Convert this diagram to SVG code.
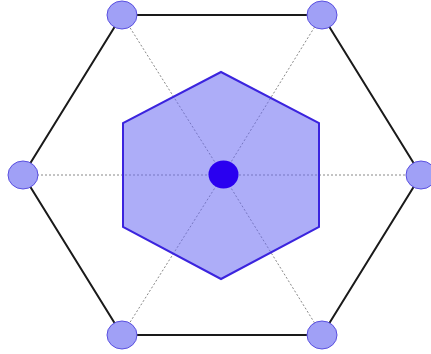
<svg xmlns="http://www.w3.org/2000/svg" width="431" height="354" viewBox="0 0 431 354">
<style>
.edge{stroke:#1a1a1a;stroke-width:2;fill:none}
.spoke{stroke:#888;stroke-width:1;stroke-dasharray:2,2;fill:none}
.vtx{fill:#a0a0f6;stroke:#5a50e0;stroke-width:1}
</style>
<rect width="431" height="354" fill="#ffffff"/>
<g id="connectors">
<polygon class="edge" points="122,15 322,15 421,175 322,335 122,335 23,175"/>
<line class="spoke" x1="223" y1="175" x2="122" y2="15"/>
<line class="spoke" x1="223" y1="175" x2="322" y2="15"/>
<line class="spoke" x1="223" y1="175" x2="421" y2="175"/>
<line class="spoke" x1="223" y1="175" x2="322" y2="335"/>
<line class="spoke" x1="223" y1="175" x2="122" y2="335"/>
<line class="spoke" x1="223" y1="175" x2="23" y2="175"/>
</g>
<g id="inner">
<polygon points="221,72 319,123 319,227 221,279 123,227 123,123" fill="#6a6af2" fill-opacity="0.55" stroke="#3b24de" stroke-width="2"/>
</g>
<g id="center"><ellipse cx="223.5" cy="174.5" rx="15" ry="14" fill="#2a00f0"/></g>
<g id="v1"><ellipse class="vtx" cx="122" cy="15" rx="15" ry="14"/></g>
<g id="v2"><ellipse class="vtx" cx="322" cy="15" rx="15" ry="14"/></g>
<g id="v3"><ellipse class="vtx" cx="421" cy="175" rx="15" ry="14"/></g>
<g id="v4"><ellipse class="vtx" cx="322" cy="335" rx="15" ry="14"/></g>
<g id="v5"><ellipse class="vtx" cx="122" cy="335" rx="15" ry="14"/></g>
<g id="v6"><ellipse class="vtx" cx="23" cy="175" rx="15" ry="14"/></g>
</svg>
